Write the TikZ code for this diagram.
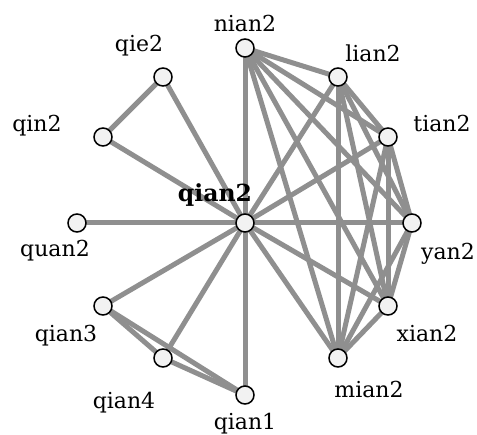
\documentclass[tikz,border=0pt]{standalone}
\usepackage{fontspec}
\setmainfont{DejaVu Serif}
\usetikzlibrary{backgrounds}
\begin{document}
\begin{tikzpicture}[x=1pt,y=-1pt,
  vtx/.style={circle,draw=black,line width=1.5pt,fill=black!5,minimum size=18pt,inner sep=0pt},
  edge/.style={draw=black!44,line width=5pt},
  lbl/.style={anchor=base,font=\fontsize{22}{26}\selectfont,inner sep=0pt},
  lblb/.style={lbl,font=\fontsize{23.5}{28}\selectfont\bfseries}]
\useasboundingbox (0,0) rectangle (477,435);
% nodes
\node[vtx] (qian2) at (245,223) {};
\node[vtx] (nian2) at (245,48) {};
\node[vtx] (lian2) at (338,77) {};
\node[vtx] (tian2) at (388,137) {};
\node[vtx] (yan2) at (412,223) {};
\node[vtx] (xian2) at (388,306) {};
\node[vtx] (mian2) at (338,358) {};
\node[vtx] (qian1) at (245,395) {};
\node[vtx] (qian4) at (163,358) {};
\node[vtx] (qian3) at (103,306) {};
\node[vtx] (quan2) at (77,223) {};
\node[vtx] (qin2) at (103,137) {};
\node[vtx] (qie2) at (163,77) {};
% edges
\begin{pgfonlayer}{background}
\foreach \a/\b in {qian2/nian2,qian2/lian2,qian2/tian2,qian2/yan2,qian2/xian2,qian2/mian2,
  qian2/qian1,qian2/qian4,qian2/qian3,qian2/quan2,qian2/qin2,qian2/qie2,
  qie2/qin2,qian3/qian4,qian3/qian1,qian4/qian1,
  nian2/lian2,nian2/tian2,nian2/yan2,nian2/xian2,nian2/mian2,
  lian2/tian2,lian2/yan2,lian2/xian2,lian2/mian2,
  tian2/yan2,tian2/xian2,tian2/mian2,
  yan2/xian2,yan2/mian2,xian2/mian2}
  \draw[edge] (\a.center) -- (\b.center);
\end{pgfonlayer}
% labels
\node[lblb] (Lqian2) at (215,202) {qian2};
\node[lbl] (Lnian2) at (245,32) {nian2};
\node[lbl] (Llian2) at (373,62) {lian2};
\node[lbl] (Ltian2) at (442,132) {tian2};
\node[lbl] (Lyan2) at (448,260) {yan2};
\node[lbl] (Lxian2) at (427,342) {xian2};
\node[lbl] (Lmian2) at (369,398) {mian2};
\node[lbl] (Lqian1) at (245,430) {qian1};
\node[lbl] (Lqian4) at (124,409) {qian4};
\node[lbl] (Lqian3) at (66,342) {qian3};
\node[lbl] (Lquan2) at (55,257) {quan2};
\node[lbl] (Lqin2) at (37,132) {qin2};
\node[lbl] (Lqie2) at (139,52) {qie2};
\end{tikzpicture}
\end{document}
